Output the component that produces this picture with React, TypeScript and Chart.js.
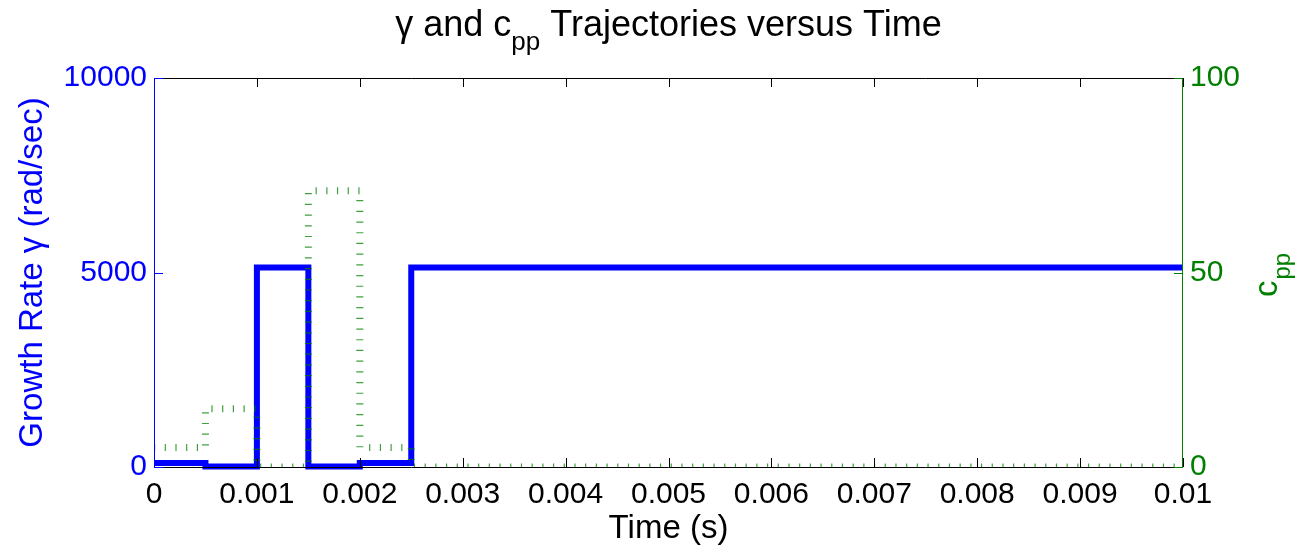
import { useEffect, useRef } from 'react';
import { Chart, registerables } from 'chart.js';

Chart.register(...registerables);

// ---- data ----
const times = [0, 0.0005, 0.001, 0.0015, 0.002, 0.0025, 0.01];
const gammaValues = [100, 10, 5130, 10, 100, 5130, 5130];
const cppValues = [5, 15, 0, 71, 5, 0, 0];
const xTickValues = [0, 0.001, 0.002, 0.003, 0.004, 0.005, 0.006, 0.007, 0.008, 0.009, 0.01];
const xTickLabels = ['0', '0.001', '0.002', '0.003', '0.004', '0.005', '0.006', '0.007', '0.008', '0.009', '0.01'];
const gammaTicks = [0, 5000, 10000];
const cppTicks = [0, 50, 100];

const FONT = '"Liberation Sans", Arial, Helvetica, sans-serif';
const BLUE = '#0000ff';
const GREEN = '#008000';
const W = 1301;
const H = 548;
const LEFT = 154;
const RIGHT = 1183;
const TOP = 78;
const BOTTOM = 467;

const decorPlugin = {
  id: 'decor',
  afterDatasetsDraw(chart: any) {
    const { ctx, chartArea: a, scales } = chart;
    const t = 9;
    ctx.save();
    ctx.lineWidth = 1;
    ctx.strokeStyle = '#000';
    ctx.beginPath();
    ctx.moveTo(a.left, Math.round(a.bottom) + 0.5);
    ctx.lineTo(a.right, Math.round(a.bottom) + 0.5);
    ctx.moveTo(a.left, Math.round(a.top) + 0.5);
    ctx.lineTo(a.right, Math.round(a.top) + 0.5);
    xTickValues.forEach((v) => {
      const px = Math.round(scales.x.getPixelForValue(v)) + 0.5;
      ctx.moveTo(px, a.bottom);
      ctx.lineTo(px, a.bottom - t);
      ctx.moveTo(px, a.top);
      ctx.lineTo(px, a.top + t);
    });
    ctx.stroke();
    ctx.strokeStyle = BLUE;
    ctx.beginPath();
    const lx = Math.round(a.left) + 0.5;
    const rx = Math.round(a.right) - 0.5;
    ctx.moveTo(lx, a.top);
    ctx.lineTo(lx, a.bottom);
    gammaTicks.forEach((v) => {
      const py = Math.round(scales.y.getPixelForValue(v)) + 0.5;
      ctx.moveTo(a.left, py);
      ctx.lineTo(a.left + t, py);
      ctx.moveTo(a.right, py);
      ctx.lineTo(a.right - t, py);
    });
    ctx.stroke();
    ctx.strokeStyle = GREEN;
    ctx.beginPath();
    ctx.moveTo(rx, a.top);
    ctx.lineTo(rx, a.bottom);
    cppTicks.forEach((v) => {
      const py = Math.round(scales.y1.getPixelForValue(v)) + 0.5;
      ctx.moveTo(a.right, py);
      ctx.lineTo(a.right - t, py);
    });
    ctx.stroke();
    ctx.restore();
  },
  afterDraw(chart: any) {
    const { ctx, chartArea: a } = chart;
    ctx.save();
    const label = `33px ${FONT}`;
    const labelSub = `24px ${FONT}`;
    const tBig = `36px ${FONT}`;
    const tSmall = `26px ${FONT}`;
    ctx.fillStyle = '#000';
    ctx.textBaseline = 'alphabetic';
    ctx.textAlign = 'left';
    const p1 = 'γ and c';
    const p2 = 'pp';
    const p3 = ' Trajectories versus Time';
    ctx.font = tBig;
    const w1 = ctx.measureText(p1).width;
    const w3 = ctx.measureText(p3).width;
    ctx.font = tSmall;
    const w2 = ctx.measureText(p2).width;
    let x = (a.left + a.right) / 2 - (w1 + w2 + w3) / 2;
    ctx.font = tBig;
    ctx.fillText(p1, x, 36);
    x += w1;
    ctx.font = tSmall;
    ctx.fillText(p2, x, 50);
    x += w2;
    ctx.font = tBig;
    ctx.fillText(p3, x, 36);

    ctx.textAlign = 'center';
    ctx.font = label;
    ctx.fillText('Time (s)', (a.left + a.right) / 2, 538);

    ctx.save();
    ctx.translate(42, (a.top + a.bottom) / 2);
    ctx.rotate(-Math.PI / 2);
    ctx.fillStyle = BLUE;
    ctx.textAlign = 'center';
    ctx.font = label;
    ctx.fillText('Growth Rate γ (rad/sec)', 0, 0);
    ctx.restore();

    ctx.save();
    ctx.font = label;
    const wc = ctx.measureText('c').width;
    ctx.translate(1277, 297);
    ctx.rotate(-Math.PI / 2);
    ctx.fillStyle = GREEN;
    ctx.textAlign = 'left';
    ctx.fillText('c', 0, 0);
    ctx.font = labelSub;
    ctx.fillText('pp', wc + 1, 13);
    ctx.restore();
    ctx.restore();
  },
};

export default function App() {
  const ref = useRef<HTMLCanvasElement | null>(null);
  useEffect(() => {
    document.body.style.margin = '0';
    const canvas = ref.current;
    if (!canvas) return;
    const chart = new Chart(canvas, {
      type: 'line',
      data: {
        datasets: [
          {
            label: 'cpp',
            data: times.map((t, i) => ({ x: t, y: cppValues[i] })),
            yAxisID: 'y1',
            borderColor: 'rgba(0,128,0,0.75)',
            borderWidth: 7,
            borderDash: [1.2, 9.5],
            borderCapStyle: 'butt',
            stepped: 'before',
            pointRadius: 0,
            fill: false,
            clip: 0,
            order: 0,
          },
          {
            label: 'gamma',
            data: times.map((t, i) => ({ x: t, y: gammaValues[i] })),
            yAxisID: 'y',
            borderColor: BLUE,
            borderWidth: 6,
            borderJoinStyle: 'miter',
            stepped: 'before',
            pointRadius: 0,
            fill: false,
            clip: false,
            order: 1,
          },
        ],
      },
      options: {
        animation: false,
        responsive: false,
        maintainAspectRatio: false,
        layout: { padding: { top: TOP, left: 0, right: 0, bottom: 0 } },
        plugins: {
          legend: { display: false },
          title: { display: false },
          tooltip: { enabled: false },
        },
        scales: {
          x: {
            type: 'linear',
            min: 0,
            max: 0.01,
            grid: { display: false, drawTicks: false },
            border: { display: false },
            afterBuildTicks: (s: any) => {
              s.ticks = xTickValues.map((v) => ({ value: v }));
            },
            afterFit: (s: any) => {
              s.height = H - BOTTOM;
            },
            ticks: {
              color: '#000',
              font: { family: FONT, size: 30 },
              padding: 10,
              maxRotation: 0,
              autoSkip: false,
              callback: (_v: any, i: number) => xTickLabels[i],
            },
          },
          y: {
            type: 'linear',
            position: 'left',
            min: 0,
            max: 10000,
            grid: { display: false, drawTicks: false },
            border: { display: false },
            afterBuildTicks: (s: any) => {
              s.ticks = gammaTicks.map((v) => ({ value: v }));
            },
            afterFit: (s: any) => {
              s.width = LEFT;
            },
            ticks: {
              color: BLUE,
              font: { family: FONT, size: 30 },
              padding: 7,
              callback: (v: any) => String(v),
            },
          },
          y1: {
            type: 'linear',
            position: 'right',
            min: 0,
            max: 100,
            grid: { display: false, drawTicks: false },
            border: { display: false },
            afterBuildTicks: (s: any) => {
              s.ticks = cppTicks.map((v) => ({ value: v }));
            },
            afterFit: (s: any) => {
              s.width = W - RIGHT;
            },
            ticks: {
              color: GREEN,
              font: { family: FONT, size: 30 },
              padding: 7,
              callback: (v: any) => String(v),
            },
          },
        },
      },
      plugins: [decorPlugin],
    } as any);
    return () => chart.destroy();
  }, []);
  return (
    <div style={{ position: 'absolute', left: 0, top: 0, width: W, height: H }}>
      <canvas ref={ref} width={W} height={H} style={{ width: W, height: H, display: 'block' }} />
    </div>
  );
}
